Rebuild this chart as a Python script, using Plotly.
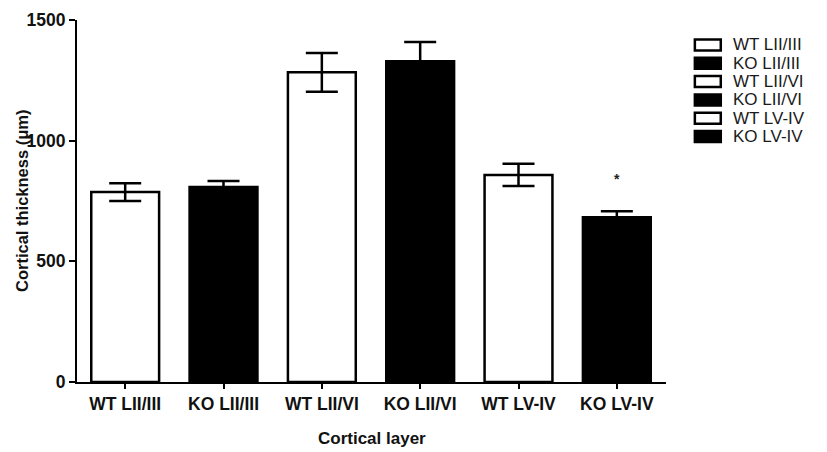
import plotly.graph_objects as go

categories = ["WT LII/III", "KO LII/III", "WT LII/VI", "KO LII/VI", "WT LV-IV", "KO LV-IV"]
values = [787, 808, 1283, 1329, 858, 683]
errors = [37, 25, 80, 80, 46, 25]
fills = ["white", "black", "white", "black", "white", "black"]
yticks = [0, 500, 1000, 1500]

FONT = "Liberation Sans, Arial, sans-serif"

fig = go.Figure()
for i, c in enumerate(categories):
    fig.add_trace(go.Bar(
        x=[c], y=[values[i]], name=c, showlegend=False,
        marker=dict(color=fills[i], line=dict(color="black", width=2.5)),
        error_y=dict(type="data", array=[errors[i]], visible=True,
                     color="black", thickness=2.5, width=16),
        width=0.69,
    ))

fig.add_annotation(x=categories[5], y=values[5] + errors[5], text="<b>*</b>",
                   showarrow=False, yanchor="bottom", yshift=22,
                   font=dict(size=14, color="#222", family=FONT))

# manual legend (rectangle swatch + label per series)
leg_top = 0.931
leg_step = 0.0506
for i, c in enumerate(categories):
    yc = leg_top - i * leg_step
    fig.add_shape(type="rect", xref="paper", yref="paper",
                  x0=1.049, x1=1.093, y0=yc - 0.0152, y1=yc + 0.0152,
                  fillcolor=fills[i], line=dict(color="black", width=2.5))
    fig.add_annotation(xref="paper", yref="paper", x=1.110, y=yc,
                       text=c, showarrow=False, xanchor="left", yanchor="middle",
                       font=dict(size=17, family=FONT, color="#1a1a1a"))

# axis titles
fig.add_annotation(xref="paper", yref="paper", x=0.5, y=-0.155,
                   text="<b>Cortical layer</b>", showarrow=False,
                   xanchor="center", yanchor="middle",
                   font=dict(size=17, family=FONT, color="#111"))
fig.add_annotation(xref="paper", yref="paper", x=-0.0934, y=0.5,
                   text="<b>Cortical thickness (μm)</b>", showarrow=False,
                   textangle=-90, xanchor="center", yanchor="middle",
                   font=dict(size=16.5, family=FONT, color="#111"))

fig.update_layout(
    width=819, height=444,
    margin=dict(l=69, r=161, t=12, b=70),
    plot_bgcolor="white", paper_bgcolor="white",
    barmode="overlay",
    showlegend=False,
    font=dict(family=FONT, color="black"),
    xaxis=dict(
        type="category", categoryorder="array", categoryarray=categories,
        range=[-0.49, 5.5], automargin=False,
        showline=True, linecolor="black", linewidth=2,
        ticks="outside", ticklen=5, tickwidth=2, tickcolor="black",
        tickfont=dict(size=17.5, family=FONT, color="#111"),
        showgrid=False, zeroline=False,
    ),
    yaxis=dict(
        range=[0, 1500], tickvals=yticks, automargin=False,
        showline=True, linecolor="black", linewidth=2,
        ticks="outside", ticklen=6, tickwidth=2, tickcolor="black",
        tickfont=dict(size=17.5, family=FONT, color="#111"),
        showgrid=False, zeroline=False,
    ),
)
fig.update_xaxes(tickvals=categories, ticktext=["<b>%s</b>" % c for c in categories])
fig.update_yaxes(ticktext=["<b>%d</b>" % v for v in yticks])
fig.write_html("out.html")
